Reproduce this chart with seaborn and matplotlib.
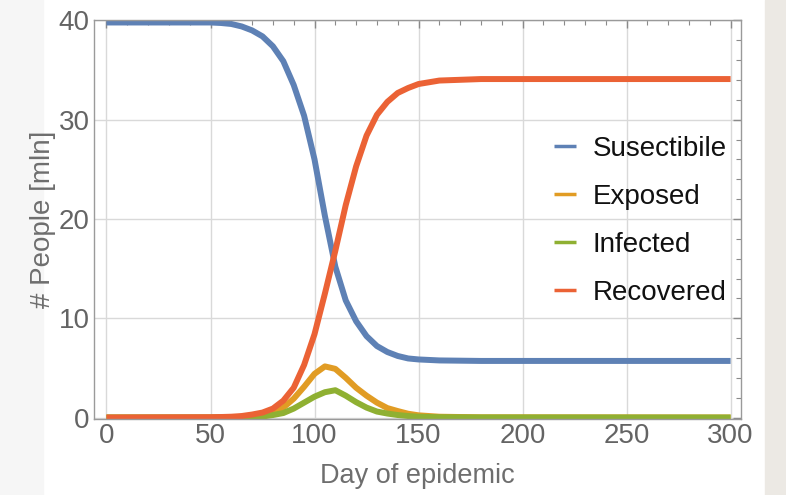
import numpy as np
import pandas as pd
import matplotlib
matplotlib.use("Agg")
import matplotlib.pyplot as plt
import seaborn as sns
from matplotlib.ticker import MultipleLocator

days = [0, 50, 55, 60, 65, 70, 75, 80, 85, 90, 95, 100, 105, 110, 115, 120,
        125, 130, 135, 140, 145, 150, 160, 180, 300]
susceptible = [39.8, 39.8, 39.75, 39.65, 39.4, 39.0, 38.4, 37.4, 35.9, 33.5,
               30.4, 26.0, 20.3, 15.2, 11.8, 9.7, 8.2, 7.2, 6.6, 6.2, 5.95,
               5.85, 5.75, 5.7, 5.7]
exposed = [0.0, 0.0, 0.02, 0.03, 0.06, 0.1, 0.25, 0.5, 1.0, 1.9, 3.1, 4.4,
           5.15, 4.9, 4.0, 3.0, 2.2, 1.5, 0.95, 0.65, 0.38, 0.22, 0.08, 0.02, 0.0]
infected = [0.0, 0.0, 0.01, 0.02, 0.03, 0.05, 0.1, 0.25, 0.45, 0.9, 1.5, 2.1,
            2.55, 2.75, 2.2, 1.55, 1.0, 0.6, 0.4, 0.25, 0.15, 0.08, 0.03, 0.01, 0.0]
recovered = [0.0, 0.03, 0.05, 0.08, 0.15, 0.3, 0.5, 0.9, 1.7, 3.0, 5.3, 8.4,
             12.5, 16.8, 21.4, 25.3, 28.4, 30.5, 31.8, 32.7, 33.2, 33.6,
             33.95, 34.1, 34.1]

series = ["Susectibile", "Exposed", "Infected", "Recovered"]
colors = ["#5E81B5", "#E19C24", "#8FB032", "#EB6235"]

df = pd.DataFrame({"day": days, "Susectibile": susceptible, "Exposed": exposed,
                   "Infected": infected, "Recovered": recovered})
long = df.melt(id_vars="day", var_name="group", value_name="people")

sns.set_theme(style="white")
plt.rcParams["font.family"] = ["Liberation Sans", "DejaVu Sans"]

fig = plt.figure(figsize=(7.86, 4.95), dpi=100)
fig.patch.set_facecolor("white")
# background strips at the edges of the screenshot
fig.add_artist(plt.Rectangle((0, 0), 43 / 786, 1, transform=fig.transFigure,
                             color="#f6f6f6", zorder=-10))
fig.add_artist(plt.Rectangle((765 / 786, 0), 21 / 786, 1, transform=fig.transFigure,
                             color="#ece9e4", zorder=-10))
ax = fig.add_axes([94 / 786, 1 - 419 / 495, 647 / 786, 399 / 495])

sns.lineplot(data=long, x="day", y="people", hue="group", hue_order=series,
             palette=colors, linewidth=4.3, ax=ax, legend=True)
for line in ax.get_lines():
    line.set_solid_capstyle("butt")
    line.set_solid_joinstyle("round")

ax.set_xlim(-6, 305)
ax.set_ylim(-0.15, 40.05)
ax.xaxis.set_major_locator(MultipleLocator(50))
ax.xaxis.set_minor_locator(MultipleLocator(10))
ax.yaxis.set_major_locator(MultipleLocator(10))
ax.yaxis.set_minor_locator(MultipleLocator(2))
ax.grid(True, which="major", color="#d9d9d9", linewidth=1.0)
ax.set_axisbelow(True)

for s in ax.spines.values():
    s.set_color("#9a9a9a")
    s.set_linewidth(1.0)
ax.tick_params(which="both", direction="in", top=True, right=True,
               color="#8a8a8a", labelcolor="#646464", labelsize=20)
ax.tick_params(which="major", length=6, width=1.0, pad=3)
ax.tick_params(which="minor", length=3.5, width=0.8)

ax.set_xlabel("Day of epidemic", fontsize=19.5, color="#6e6e6e", labelpad=10)
ax.set_ylabel("# People [mln]", fontsize=20, color="#6e6e6e", labelpad=2)

leg = ax.legend(loc="upper left", bbox_to_anchor=(0.711, 0.71), frameon=False,
                fontsize=20, handlelength=0.8, handletextpad=0.6,
                labelspacing=0.79, borderpad=0, borderaxespad=0)
for h in leg.get_lines():
    h.set_linewidth(2.5)
for t in leg.get_texts():
    t.set_color("#111111")

fig.savefig("out.png", dpi=100)
